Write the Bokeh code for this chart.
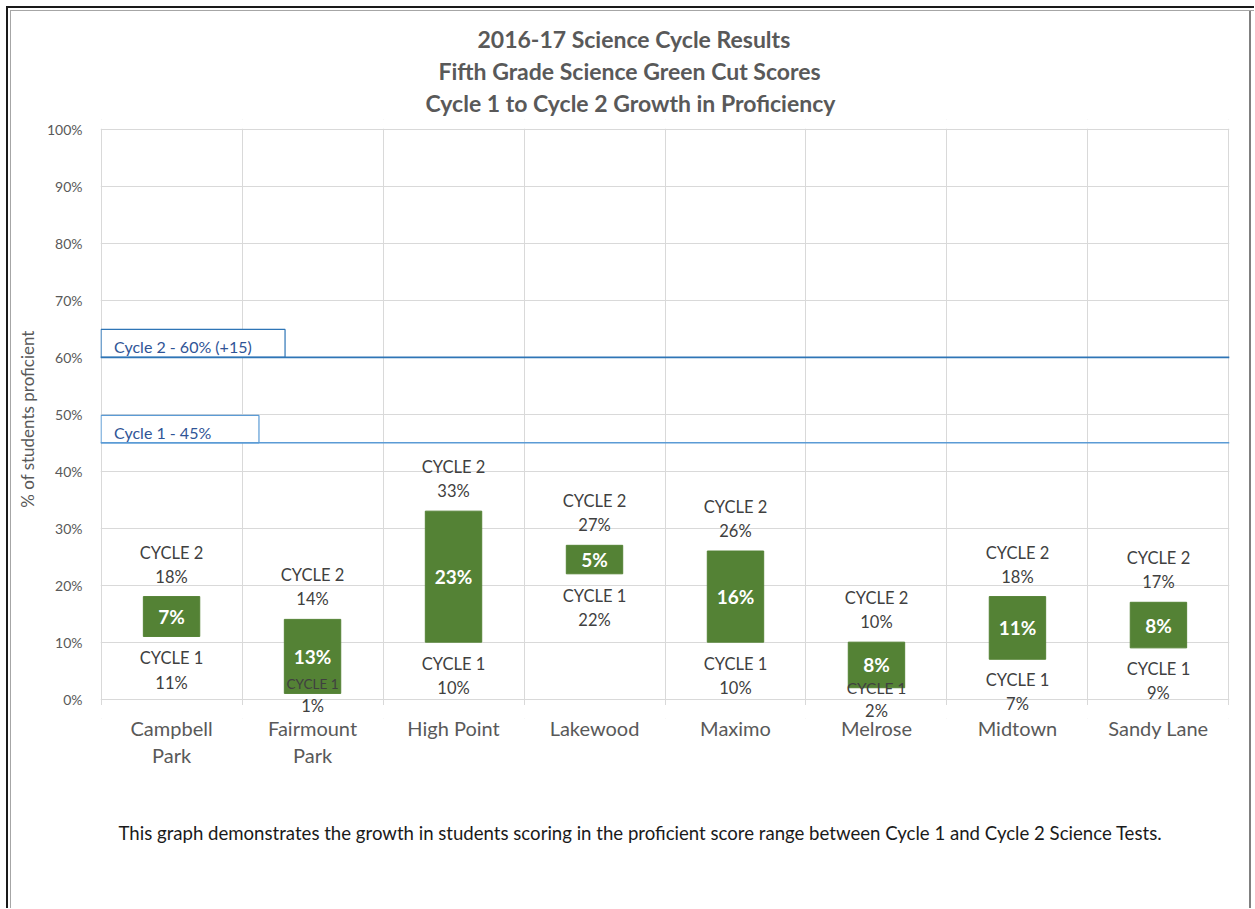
from bokeh.plotting import figure
from bokeh.models import (Range1d, FixedTicker, ColumnDataSource, LabelSet, Label, Span,
                          Title, BoxAnnotation)
from bokeh.embed import file_html
from bokeh.resources import INLINE
from bokeh.core.properties import value

# ---------------- data ----------------
categories = ["Campbell Park", "Fairmount Park", "High Point", "Lakewood",
              "Maximo", "Melrose", "Midtown", "Sandy Lane"]
category_labels = ["Campbell\nPark", "Fairmount\nPark", "High Point", "Lakewood",
                   "Maximo", "Melrose", "Midtown", "Sandy Lane"]
cycle1 = [11, 1, 10, 22, 10, 2, 7, 9]
cycle2 = [18, 14, 33, 27, 26, 10, 18, 17]
growth = [7, 13, 23, 5, 16, 8, 11, 8]
cut_labels = ["Cycle 1 - 45%", "Cycle 2 - 60% (+15)"]
cut_values = [45, 60]
y_ticks = [0, 10, 20, 30, 40, 50, 60, 70, 80, 90, 100]
title_lines = ["2016-17 Science Cycle Results",
               "Fifth Grade Science Green Cut Scores",
               "Cycle 1 to Cycle 2 Growth in Proficiency"]
caption = ("This graph demonstrates the growth in students scoring in the proficient "
           "score range between Cycle 1 and Cycle 2 Science Tests.")

# ---------------- styles / layout ----------------
FONT = "Lato"
GREEN = "#548235"
GRID = "#d9d9d9"
GRAY = "#595959"
LABEL = "#404040"
c1_name_off = [22, -9, 22, 22, 22, 0, 21, 21]      # px below bar bottom
c1_val_off = [47, 13, 46, 46, 46, 23, 45, 45]
c1_name_size = ["16.5px", "13.5px", "16.5px", "16.5px", "16.5px", "15.5px", "16.5px", "16.5px"]
title_left = [377, 338, 325]        # px from plot-area left edge
Y_LO, Y_HI = -3.4, 101.75           # frame extends a little past 0% and 100%

n = len(categories)
xs = [i + 0.5 for i in range(n)]

p = figure(width=1254, height=908, output_backend="svg", toolbar_location=None,
           x_range=Range1d(-0.004, n + 0.004), y_range=Range1d(Y_LO, Y_HI),
           min_border_left=100, min_border_right=25, min_border_top=119,
           min_border_bottom=190, tools="")
p.outline_line_color = None
p.background_fill_color = "white"
p.border_fill_color = None
p.styles = {"background-color": "white",
            "box-shadow": ("inset 6px 6px 0 0 white, inset 8px 8px 0 0 #1a1a1a, "
                           "inset 10px 10px 0 0 white, inset 11px 11px 0 0 #a6a6a6, "
                           "inset -3px 0 0 0 white, inset -5px 0 0 0 #808080")}

# axes
p.xaxis.ticker = FixedTicker(ticks=xs)
p.xaxis.major_label_overrides = {x: lab for x, lab in zip(xs, category_labels)}
p.xaxis.major_tick_line_color = None
p.xaxis.major_tick_out = 0
p.xaxis.major_tick_in = 0
p.xaxis.minor_tick_line_color = None
p.xaxis.axis_line_color = None
p.xaxis.major_label_text_font = FONT
p.xaxis.major_label_text_font_size = "20px"
p.xaxis.major_label_text_color = GRAY
p.xaxis.major_label_text_line_height = 1.14
p.xaxis.major_label_standoff = -3

p.yaxis.ticker = FixedTicker(ticks=y_ticks)
p.yaxis.major_label_overrides = {t: f"{t}%" for t in y_ticks}
p.yaxis.axis_line_color = None
p.yaxis.major_tick_line_color = None
p.yaxis.minor_tick_line_color = None
p.yaxis.major_label_text_font = FONT
p.yaxis.major_label_text_font_size = "14px"
p.yaxis.major_label_text_color = GRAY
p.yaxis.major_label_standoff = 12
p.yaxis.axis_label = "% of students proficient"
p.yaxis.axis_label_text_font = FONT
p.yaxis.axis_label_text_font_size = "17px"
p.yaxis.axis_label_text_font_style = "normal"
p.yaxis.axis_label_text_color = GRAY
p.yaxis.axis_label_standoff = 6

p.xgrid.ticker = FixedTicker(ticks=list(range(n + 1)))
p.ygrid.ticker = FixedTicker(ticks=y_ticks)
p.xgrid.grid_line_color = GRID
p.ygrid.grid_line_color = GRID
# trim the vertical grid lines: nothing above 100%, short tick marks below 0%
p.add_layout(BoxAnnotation(bottom=100.12, fill_color="white", fill_alpha=1,
                           line_color=None, level="underlay"))
p.add_layout(BoxAnnotation(top=-1.05, fill_color="white", fill_alpha=1,
                           line_color=None, level="underlay"))

# bars
src = ColumnDataSource(dict(
    x=xs, c1=cycle1, c2=cycle2, mid=[(a + b) / 2 for a, b in zip(cycle1, cycle2)],
    g=[f"{v}%" for v in growth],
    c1t=[f"{v}%" for v in cycle1], c2t=[f"{v}%" for v in cycle2],
    n1=["CYCLE 1"] * n, n2=["CYCLE 2"] * n,
    n1o=[-o for o in c1_name_off], v1o=[-o for o in c1_val_off], n1s=c1_name_size,
))
p.vbar(x="x", bottom="c1", top="c2", width=0.4, source=src,
       fill_color=GREEN, line_color=GREEN)

# cut score lines and boxed labels
line_colors = ["#5b9bd5", "#2e75b6"]
box_right = [1.12, 1.305]
box_h = [4.8, 4.9]
for name, v, col, br, bh in zip(cut_labels, cut_values, line_colors, box_right, box_h):
    p.add_layout(Span(location=v, dimension="width", line_color=col, line_width=1.6))
    p.quad(left=0, right=br, bottom=v, top=v + bh, fill_color="white",
           line_color=col, line_width=1.2)
    p.add_layout(Label(x=0.092, y=v + bh / 2, y_offset=-3, text=name,
                       text_font=FONT, text_font_size="16px", text_color="#2f5496",
                       text_baseline="middle", text_align="left"))

common = dict(source=src, text_align="center", text_baseline="middle",
              text_font=value(FONT))
p.add_layout(LabelSet(x="x", y="c2", text="n2", y_offset=44, text_font_size="16.5px",
                      text_color=LABEL, **common))
p.add_layout(LabelSet(x="x", y="c2", text="c2t", y_offset=20, text_font_size="16.5px",
                      text_color=LABEL, **common))
p.add_layout(LabelSet(x="x", y="c1", text="n1", y_offset="n1o", text_font_size="n1s",
                      text_color=LABEL, **common))
p.add_layout(LabelSet(x="x", y="c1", text="c1t", y_offset="v1o", text_font_size="16.5px",
                      text_color=LABEL, **common))
p.add_layout(LabelSet(x="x", y="mid", text="g", text_font_size="19px",
                      text_font_style="bold", text_color="white", **common))

# titles (closest to the plot first) and caption
p.title.visible = False
for t, off in reversed(list(zip(title_lines, title_left))):
    p.add_layout(Title(text=t, align="left", offset=off, standoff=2,
                       vertical_align="top", text_font=FONT, text_font_size="23px",
                       text_font_style="bold", text_color=GRAY), "above")
p.add_layout(Title(text=caption, align="left", offset=18, standoff=104,
                   vertical_align="top", text_font=FONT, text_font_size="18.6px",
                   text_font_style="normal", text_color="#1a1a1a"), "below")

open("out.html", "w").write(file_html(p, INLINE))
